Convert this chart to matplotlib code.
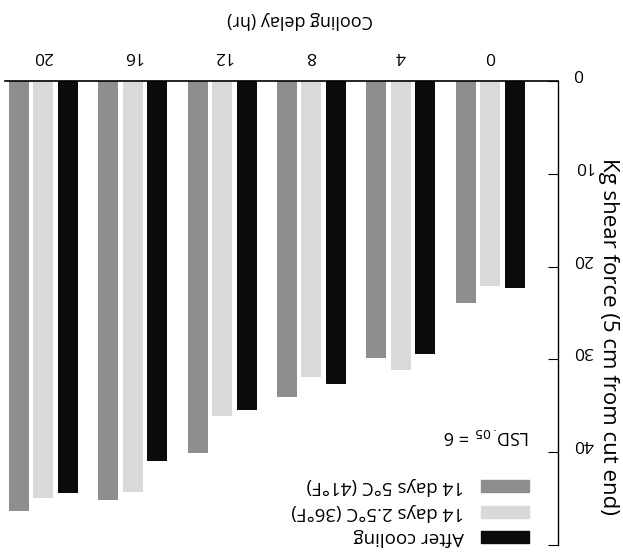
import numpy as np
import matplotlib
matplotlib.use("Agg")
import matplotlib.pyplot as plt
from matplotlib.patches import Rectangle

# Datos (la imagen original está girada 180 grados)
delays = ["0", "4", "8", "12", "16", "20"]
after_cooling = [22.3, 29.4, 32.6, 35.5, 40.9, 44.4]
days14_25C = [22.1, 31.1, 31.9, 36.1, 44.3, 44.9]
days14_5C = [23.9, 29.9, 34.1, 40.1, 45.2, 46.3]

series_labels = ["After cooling", "14 days 2.5°C (36°F)", "14 days 5°C (41°F)"]
series_colors = ["#0b0b0b", "#d9d9d9", "#8e8e8e"]

plt.rcParams["font.family"] = ["Open Sans", "DejaVu Sans"]

W, H = 623, 554
fig = plt.figure(figsize=(W / 100, H / 100), dpi=100)
ax = fig.add_axes([5 / W, 1 - 545 / H, (558 - 5) / W, (545 - 81) / H])

x = np.arange(len(delays))
step = 0.274
width = 0.224
ax.bar(x - step, after_cooling, width, color=series_colors[0])
ax.bar(x, days14_25C, width, color=series_colors[1])
ax.bar(x + step, days14_5C, width, color=series_colors[2])

# Todo invertido: ceros arriba, categorías de derecha a izquierda
ax.set_xlim(5.43, -0.76)
ax.set_ylim(50, 0)

for s in ["left", "bottom"]:
    ax.spines[s].set_visible(False)
ax.spines["top"].set_linewidth(1.2)
ax.spines["right"].set_linewidth(1.0)

ax.xaxis.tick_top()
ax.set_xticks(x)
ax.set_xticklabels(delays, rotation=180, fontsize=12.5)
ax.tick_params(axis="x", length=0, pad=12)

ax.yaxis.tick_right()
ax.set_yticks([0, 10, 20, 30, 40, 50])
ax.set_yticklabels(["0", "10", "20", "30", "40", ""], rotation=180, fontsize=12.5)
ax.tick_params(axis="y", direction="in", length=7, pad=11)
for lbl in ax.get_yticklabels():
    lbl.set_verticalalignment("bottom")

fig.text(300 / W, 1 - 20 / H, "Cooling delay (hr)", rotation=180,
         ha="center", va="center", fontsize=13)
fig.text(609 / W, 1 - 336 / H, "Kg shear force (5 cm from cut end)", rotation=-90,
         ha="center", va="center", fontsize=16)

fig.text(530 / W, 1 - 436 / H, "LSD$_{.05}$ = 6", rotation=180, rotation_mode="anchor",
         ha="left", va="center", fontsize=13)

# Leyenda dibujada a mano (boca abajo)
legend_y = [537, 512, 486]
for lab, col, yy in zip(series_labels, series_colors, legend_y):
    fig.patches.append(Rectangle((481 / W, 1 - (yy + 6) / H), 48 / W, 12 / H,
                                 color=col, transform=fig.transFigure))
    fig.text(464 / W, 1 - yy / H, lab, rotation=180, rotation_mode="anchor",
             ha="left", va="center", fontsize=13.5)

fig.savefig("out.png", dpi=100)
plt.close()
